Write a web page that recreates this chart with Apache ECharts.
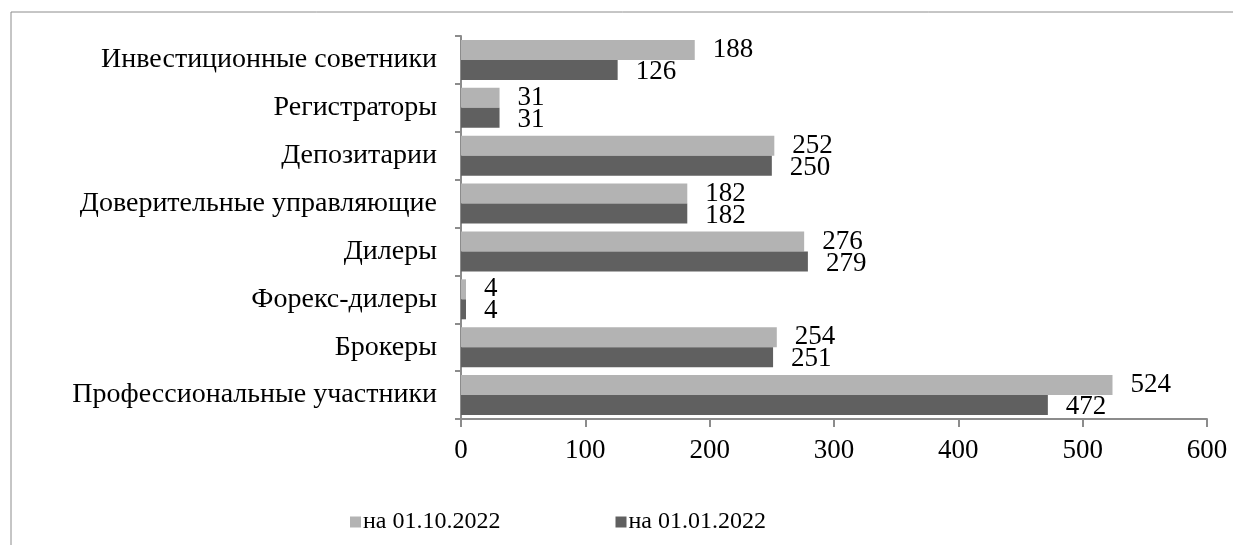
<!DOCTYPE html>
<html>
<head>
<meta charset="utf-8">
<script src="https://cdn.jsdelivr.net/npm/echarts@6/dist/echarts.min.js"></script>
<style>
  html, body { margin: 0; padding: 0; background: #fff; }
  #chart { width: 1233px; height: 545px; }
</style>
</head>
<body>
<div id="chart"></div>
<script>
// Categories, listed top to bottom
const categories = [
  'Инвестиционные советники',
  'Регистраторы',
  'Депозитарии',
  'Доверительные управляющие',
  'Дилеры',
  'Форекс-дилеры',
  'Брокеры',
  'Профессиональные участники'
];
const seriesNames = ['на 01.10.2022', 'на 01.01.2022'];
const valuesOct2022 = [188, 31, 252, 182, 276, 4, 254, 524];
const valuesJan2022 = [126, 31, 250, 182, 279, 4, 251, 472];
const xTicks = { min: 0, max: 600, interval: 100 };

const FONT = '"Liberation Serif", "Times New Roman", serif';
const chart = echarts.init(document.getElementById('chart'), null, { renderer: 'canvas' });

const labelStyle = {
  show: true,
  position: 'right',
  distance: 18,
  color: '#000',
  fontFamily: FONT,
  fontSize: 27
};

chart.setOption({
  animation: false,
  backgroundColor: '#fff',
  graphic: [{
    type: 'rect',
    shape: { x: 11, y: 12, width: 1300, height: 600 },
    style: { fill: 'none', stroke: '#8c8c8c', lineWidth: 1 },
    silent: true
  }],
  grid: { left: 461, right: 26, top: 36, bottom: 126, containLabel: false },
  legend: {
    bottom: 6,
    left: 345,
    itemGap: 115,
    itemWidth: 11,
    itemHeight: 11,
    icon: 'rect',
    textStyle: { fontFamily: FONT, fontSize: 24, color: '#000', padding: [0, 0, 0, -3] },
    data: seriesNames
  },
  xAxis: {
    type: 'value',
    min: xTicks.min,
    max: xTicks.max,
    interval: xTicks.interval,
    axisLine: { show: true, lineStyle: { color: '#8c8c8c', width: 2 } },
    axisTick: { show: true, length: 8, inside: false, lineStyle: { color: '#8c8c8c', width: 2 } },
    splitLine: { show: false },
    axisLabel: { color: '#000', fontFamily: FONT, fontSize: 27, margin: 18 }
  },
  yAxis: {
    type: 'category',
    inverse: true,
    data: categories,
    axisLine: { show: true, lineStyle: { color: '#8c8c8c', width: 2 } },
    axisTick: { show: true, length: 6, lineStyle: { color: '#8c8c8c', width: 2 } },
    axisLabel: { color: '#000', fontFamily: FONT, fontSize: 28, margin: 24 }
  },
  series: [
    {
      name: seriesNames[0],
      type: 'bar',
      data: valuesOct2022,
      barWidth: 20,
      barGap: '0%',
      itemStyle: { color: '#b3b3b3' },
      label: Object.assign({}, labelStyle, { offset: [0, 0] })
    },
    {
      name: seriesNames[1],
      type: 'bar',
      data: valuesJan2022,
      barWidth: 20,
      barGap: '0%',
      itemStyle: { color: '#606060' },
      label: Object.assign({}, labelStyle, { offset: [0, 2] })
    }
  ]
});
</script>
</body>
</html>
